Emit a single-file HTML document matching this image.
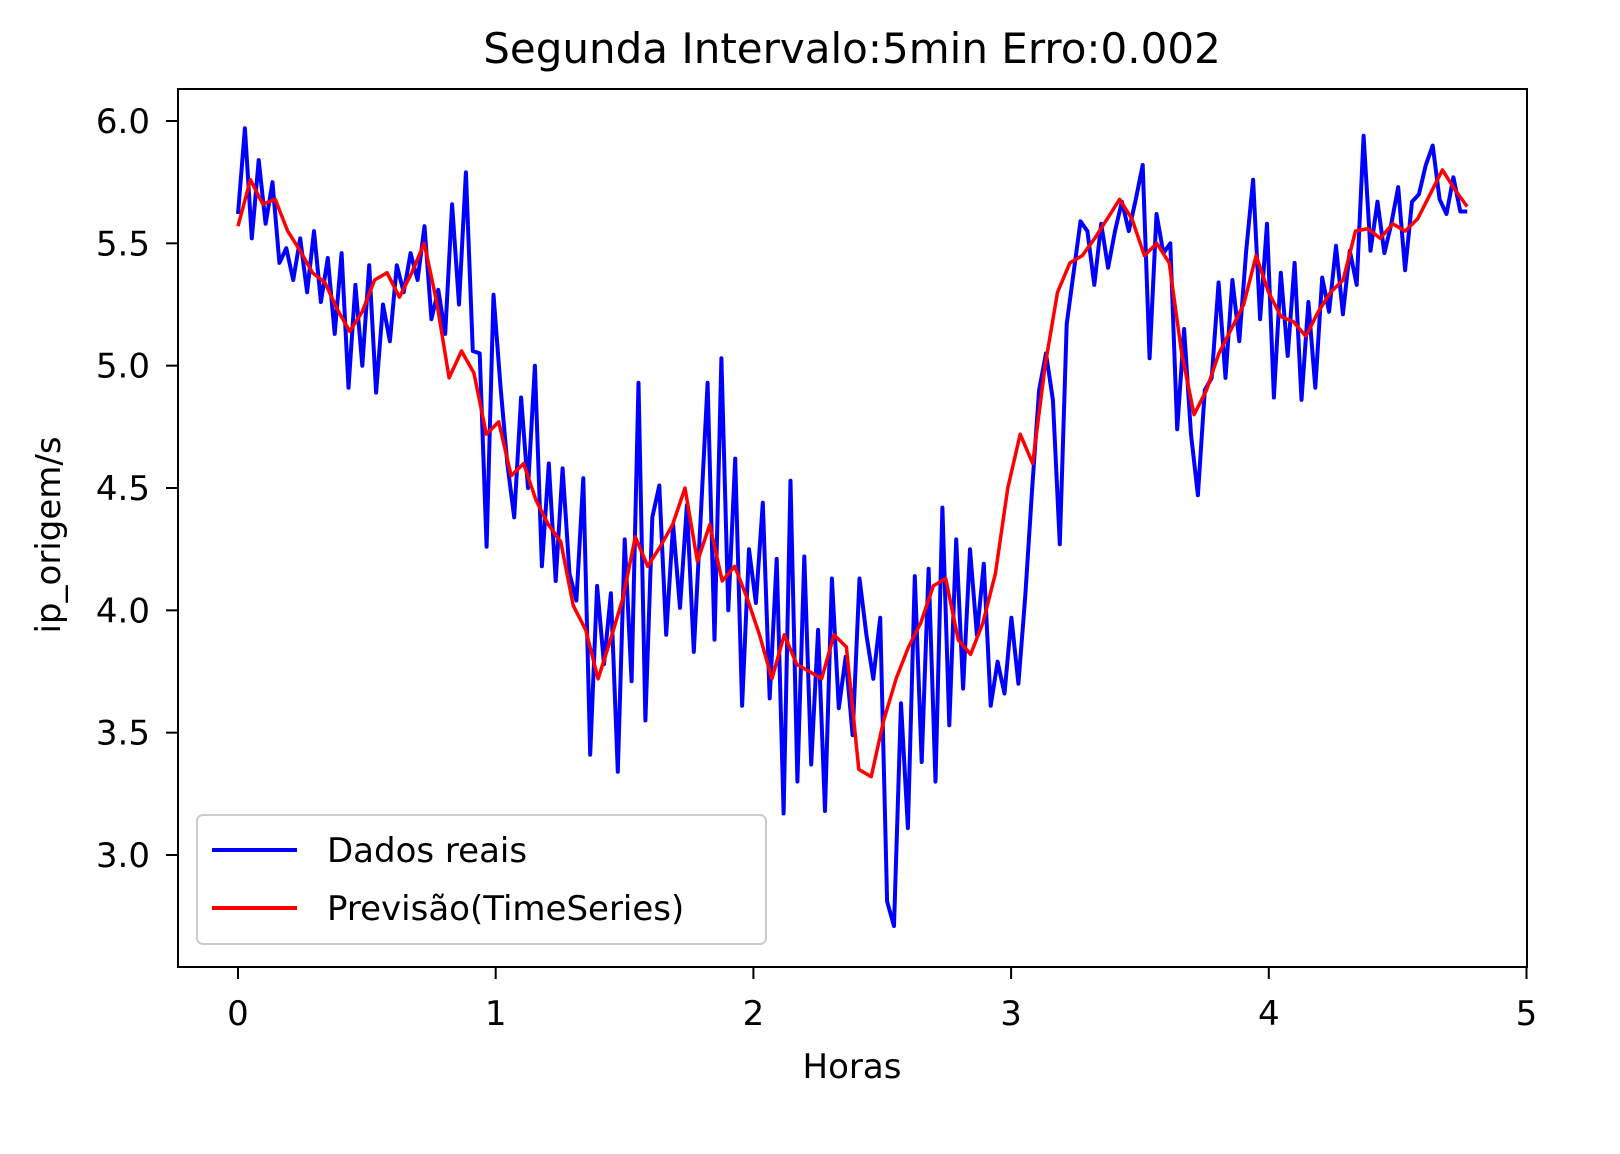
<!DOCTYPE html>
<html><head><meta charset="utf-8"><style>
html,body{margin:0;padding:0;background:#fff;}
svg{display:block;font-family:"DejaVu Sans","Liberation Sans",sans-serif;}
</style></head><body>
<svg id="chart" width="1620" height="1154" viewBox="0 0 1620 1154" xmlns="http://www.w3.org/2000/svg">
<rect x="0" y="0" width="1620" height="1154" fill="#fff"/>
<text x="852" y="63" font-size="42" text-anchor="middle">Segunda Intervalo:5min Erro:0.002</text>
<g id="plot"></g>
<rect x="178" y="89" width="1349" height="878" fill="none" stroke="#000" stroke-width="2"/>
<g id="xticks"></g>
<g id="yticks"></g>
<text x="852" y="1078" font-size="34" text-anchor="middle">Horas</text>
<text x="0" y="0" font-size="34" text-anchor="middle" transform="translate(60,535) rotate(-90)">ip_origem/s</text>
<g>
<rect x="197" y="815" width="569" height="129" rx="6" fill="#fff" fill-opacity="0.8" stroke="#ccc" stroke-width="2"/>
<line x1="212" y1="850" x2="297" y2="850" stroke="#0000ff" stroke-width="4"/>
<text x="327" y="862" font-size="34">Dados reais</text>
<line x1="212" y1="908" x2="297" y2="908" stroke="#ff0000" stroke-width="4"/>
<text x="327" y="920" font-size="34">Previsão(TimeSeries)</text>
</g>
</svg>
<script>
const realValues = [5.62,5.97,5.52,5.84,5.58,5.75,5.42,5.48,5.35,5.52,5.30,5.55,5.26,5.44,5.13,5.46,4.91,5.33,5.00,5.41,4.89,5.25,5.10,5.41,5.30,5.46,5.35,5.57,5.19,5.31,5.13,5.66,5.25,5.79,5.06,5.05,4.26,5.29,4.92,4.6,4.38,4.87,4.5,5.0,4.18,4.6,4.12,4.58,4.15,4.04,4.54,3.41,4.1,3.78,4.07,3.34,4.29,3.71,4.93,3.55,4.38,4.51,3.9,4.35,4.01,4.43,3.83,4.38,4.93,3.88,5.03,4.0,4.62,3.61,4.25,4.03,4.44,3.64,4.21,3.17,4.53,3.3,4.22,3.37,3.92,3.18,4.13,3.6,3.81,3.49,4.13,3.9,3.72,3.97,2.81,2.71,3.62,3.11,4.14,3.38,4.17,3.3,4.42,3.53,4.29,3.68,4.25,3.9,4.19,3.61,3.79,3.66,3.97,3.7,4.06,4.5,4.9,5.05,4.86,4.27,5.17,5.38,5.59,5.55,5.33,5.58,5.4,5.55,5.67,5.55,5.68,5.82,5.03,5.62,5.46,5.5,4.74,5.15,4.72,4.47,4.9,4.95,5.34,4.95,5.35,5.1,5.47,5.76,5.19,5.58,4.87,5.38,5.04,5.42,4.86,5.26,4.91,5.36,5.22,5.49,5.21,5.47,5.33,5.94,5.47,5.67,5.46,5.58,5.73,5.39,5.67,5.7,5.82,5.9,5.68,5.62,5.77,5.63,5.63];
const forecastValues = [5.57,5.76,5.66,5.68,5.55,5.47,5.38,5.34,5.23,5.14,5.22,5.35,5.38,5.28,5.38,5.50,5.26,4.95,5.06,4.97,4.72,4.77,4.55,4.6,4.45,4.35,4.28,4.02,3.92,3.72,3.88,4.05,4.3,4.18,4.26,4.35,4.5,4.2,4.35,4.12,4.18,4.05,3.9,3.72,3.9,3.78,3.75,3.72,3.9,3.85,3.35,3.32,3.55,3.72,3.85,3.95,4.1,4.13,3.88,3.82,3.95,4.15,4.5,4.72,4.6,5.0,5.3,5.42,5.45,5.52,5.6,5.68,5.6,5.45,5.5,5.42,5.05,4.8,4.9,5.05,5.15,5.25,5.45,5.3,5.2,5.18,5.12,5.22,5.3,5.35,5.55,5.56,5.52,5.58,5.55,5.6,5.7,5.8,5.72,5.65];
const xTickValues = [0,1,2,3,4,5];
const yTickValues = [3.0,3.5,4.0,4.5,5.0,5.5,6.0];
const xMaxHours = 4.77;

const NS = "http://www.w3.org/2000/svg";
function xScale(h){ return 238 + h * 257.7; }
function yScale(v){ return 855 - (v - 3.0) * 244.67; }
function linePath(vals){
  const n = vals.length;
  return vals.map((v,i)=>(i?'L':'M') + xScale(i*xMaxHours/(n-1)).toFixed(1) + ',' + yScale(v).toFixed(1)).join(' ');
}
const plot = document.getElementById('plot');
const pReal = document.createElementNS(NS,'path');
pReal.setAttribute('d', linePath(realValues));
pReal.setAttribute('fill','none'); pReal.setAttribute('stroke','#0000ff'); pReal.setAttribute('stroke-width','4'); pReal.setAttribute('stroke-linejoin','round');


plot.appendChild(pReal);
const pFc = document.createElementNS(NS,'path');
pFc.setAttribute('d', linePath(forecastValues));
pFc.setAttribute('fill','none'); pFc.setAttribute('stroke','#ff0000'); pFc.setAttribute('stroke-width','3.5'); pFc.setAttribute('stroke-linejoin','round');


plot.appendChild(pFc);

const xg = document.getElementById('xticks');
xTickValues.forEach(t=>{
  const x = xScale(t);
  const l = document.createElementNS(NS,'line');
  l.setAttribute('x1',x); l.setAttribute('x2',x); l.setAttribute('y1',967); l.setAttribute('y2',979);
  l.setAttribute('stroke','#000'); l.setAttribute('stroke-width','2');
  
  
  xg.appendChild(l);
  const tx = document.createElementNS(NS,'text');
  tx.setAttribute('x',x); tx.setAttribute('y',1025); tx.setAttribute('font-size','34'); tx.setAttribute('text-anchor','middle');
  tx.textContent = String(t);
  
  
  xg.appendChild(tx);
});
const yg = document.getElementById('yticks');
yTickValues.forEach(t=>{
  const y = yScale(t);
  const l = document.createElementNS(NS,'line');
  l.setAttribute('x1',166); l.setAttribute('x2',178); l.setAttribute('y1',y); l.setAttribute('y2',y);
  l.setAttribute('stroke','#000'); l.setAttribute('stroke-width','2');
  
  
  yg.appendChild(l);
  const tx = document.createElementNS(NS,'text');
  tx.setAttribute('x',150); tx.setAttribute('y',y+12); tx.setAttribute('font-size','34'); tx.setAttribute('text-anchor','end');
  tx.textContent = t.toFixed(1);
  
  
  yg.appendChild(tx);
});
</script>
</body></html>
